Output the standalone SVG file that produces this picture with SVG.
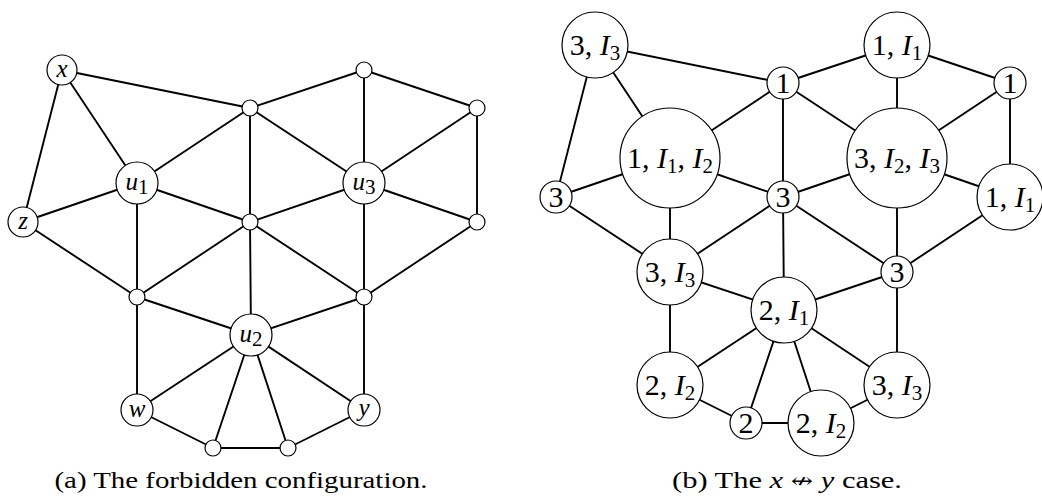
<svg xmlns="http://www.w3.org/2000/svg" width="1042" height="497" viewBox="0 0 1042 497">
<style>
.e{stroke:#000;stroke-width:1.9;fill:none;stroke-linecap:round}
.n{fill:#fff;stroke:#000;stroke-width:1.2}
.t{font-family:"Liberation Serif","DejaVu Serif",serif;fill:#000;text-anchor:middle}
.a{font-size:25px;font-style:italic}
.b{font-size:30px}
.i{font-style:italic}
.s{font-size:21px;font-style:normal}
.c{font-size:24px}
.ar{font-family:"DejaVu Serif","DejaVu Sans",serif;font-size:21px}
</style>
<rect width="1042" height="497" fill="#fff"/>
<g id="edges-a" class="e">
<line x1="62" y1="70" x2="23" y2="222"/>
<line x1="62" y1="70" x2="137" y2="183"/>
<line x1="62" y1="70" x2="250" y2="108"/>
<line x1="250" y1="108" x2="137" y2="183"/>
<line x1="250" y1="108" x2="364" y2="70"/>
<line x1="250" y1="108" x2="364" y2="183"/>
<line x1="250" y1="108" x2="250" y2="222"/>
<line x1="364" y1="70" x2="477" y2="108"/>
<line x1="364" y1="70" x2="364" y2="183"/>
<line x1="477" y1="108" x2="364" y2="183"/>
<line x1="477" y1="108" x2="477" y2="222"/>
<line x1="137" y1="183" x2="23" y2="222"/>
<line x1="137" y1="183" x2="250" y2="222"/>
<line x1="137" y1="183" x2="137" y2="297"/>
<line x1="23" y1="222" x2="137" y2="297"/>
<line x1="250" y1="222" x2="364" y2="183"/>
<line x1="250" y1="222" x2="137" y2="297"/>
<line x1="250" y1="222" x2="251" y2="335"/>
<line x1="250" y1="222" x2="364" y2="297"/>
<line x1="364" y1="183" x2="477" y2="222"/>
<line x1="364" y1="183" x2="364" y2="297"/>
<line x1="477" y1="222" x2="364" y2="297"/>
<line x1="137" y1="297" x2="251" y2="335"/>
<line x1="137" y1="297" x2="137" y2="410"/>
<line x1="364" y1="297" x2="251" y2="335"/>
<line x1="364" y1="297" x2="364" y2="410"/>
<line x1="251" y1="335" x2="137" y2="410"/>
<line x1="251" y1="335" x2="213" y2="448"/>
<line x1="251" y1="335" x2="288" y2="448"/>
<line x1="251" y1="335" x2="364" y2="410"/>
<line x1="137" y1="410" x2="213" y2="448"/>
<line x1="213" y1="448" x2="288" y2="448"/>
<line x1="288" y1="448" x2="364" y2="410"/>
</g>
<g id="edges-b" class="e" transform="translate(533,-25)">
<line x1="62" y1="70" x2="23" y2="222"/>
<line x1="62" y1="70" x2="137" y2="183"/>
<line x1="62" y1="70" x2="250" y2="108"/>
<line x1="250" y1="108" x2="137" y2="183"/>
<line x1="250" y1="108" x2="364" y2="70"/>
<line x1="250" y1="108" x2="364" y2="183"/>
<line x1="250" y1="108" x2="250" y2="222"/>
<line x1="364" y1="70" x2="477" y2="108"/>
<line x1="364" y1="70" x2="364" y2="183"/>
<line x1="477" y1="108" x2="364" y2="183"/>
<line x1="477" y1="108" x2="477" y2="222"/>
<line x1="137" y1="183" x2="23" y2="222"/>
<line x1="137" y1="183" x2="250" y2="222"/>
<line x1="137" y1="183" x2="137" y2="297"/>
<line x1="23" y1="222" x2="137" y2="297"/>
<line x1="250" y1="222" x2="364" y2="183"/>
<line x1="250" y1="222" x2="137" y2="297"/>
<line x1="250" y1="222" x2="251" y2="335"/>
<line x1="250" y1="222" x2="364" y2="297"/>
<line x1="364" y1="183" x2="477" y2="222"/>
<line x1="364" y1="183" x2="364" y2="297"/>
<line x1="477" y1="222" x2="364" y2="297"/>
<line x1="137" y1="297" x2="251" y2="335"/>
<line x1="137" y1="297" x2="137" y2="410"/>
<line x1="364" y1="297" x2="251" y2="335"/>
<line x1="364" y1="297" x2="364" y2="410"/>
<line x1="251" y1="335" x2="137" y2="410"/>
<line x1="251" y1="335" x2="213" y2="448"/>
<line x1="251" y1="335" x2="288" y2="448"/>
<line x1="251" y1="335" x2="364" y2="410"/>
<line x1="137" y1="410" x2="213" y2="448"/>
<line x1="213" y1="448" x2="288" y2="448"/>
<line x1="288" y1="448" x2="364" y2="410"/>
</g>
<!-- Left graph nodes -->
<g id="a-x"><circle class="n" cx="62" cy="70" r="15"/><text class="t a" x="62" y="77">x</text></g>
<g id="a-z"><circle class="n" cx="23" cy="222" r="15"/><text class="t a" x="23" y="229">z</text></g>
<g id="a-u1"><circle class="n" cx="137" cy="183" r="21"/><text class="t a" x="137" y="190">u<tspan class="s" dy="4">1</tspan></text></g>
<g id="a-u3"><circle class="n" cx="364" cy="183" r="21"/><text class="t a" x="364" y="190">u<tspan class="s" dy="4">3</tspan></text></g>
<g id="a-u2"><circle class="n" cx="251" cy="335" r="21"/><text class="t a" x="251" y="342">u<tspan class="s" dy="4">2</tspan></text></g>
<g id="a-w"><circle class="n" cx="137" cy="410" r="16"/><text class="t a" x="137" y="417">w</text></g>
<g id="a-y"><circle class="n" cx="364" cy="410" r="16"/><text class="t a" x="364" y="416">y</text></g>
<g id="a-t1"><circle class="n" cx="250" cy="108" r="8"/></g>
<g id="a-t2"><circle class="n" cx="364" cy="70" r="8"/></g>
<g id="a-r1"><circle class="n" cx="477" cy="108" r="8"/></g>
<g id="a-m"><circle class="n" cx="250" cy="222" r="8"/></g>
<g id="a-r2"><circle class="n" cx="477" cy="222" r="8"/></g>
<g id="a-l"><circle class="n" cx="137" cy="297" r="8"/></g>
<g id="a-rl"><circle class="n" cx="364" cy="297" r="8"/></g>
<g id="a-b1"><circle class="n" cx="213" cy="448" r="8"/></g>
<g id="a-b2"><circle class="n" cx="288" cy="448" r="8"/></g>
<!-- Right graph nodes -->
<g id="b-x"><circle class="n" cx="595" cy="45" r="33"/><text class="t b" x="595" y="55">3, <tspan class="i">I</tspan><tspan class="s" dy="5">3</tspan></text></g>
<g id="b-z"><circle class="n" cx="556" cy="197" r="16"/><text class="t b" x="556" y="207">3</text></g>
<g id="b-t1"><circle class="n" cx="783" cy="83" r="16"/><text class="t b" x="783" y="93">1</text></g>
<g id="b-t2"><circle class="n" cx="897" cy="45" r="33"/><text class="t b" x="897" y="55">1, <tspan class="i">I</tspan><tspan class="s" dy="5">1</tspan></text></g>
<g id="b-r1"><circle class="n" cx="1010" cy="83" r="16"/><text class="t b" x="1010" y="93">1</text></g>
<g id="b-u1"><circle class="n" cx="670" cy="158" r="50"/><text class="t b" x="670" y="168">1, <tspan class="i">I</tspan><tspan class="s" dy="5">1</tspan><tspan dy="-5">, </tspan><tspan class="i">I</tspan><tspan class="s" dy="5">2</tspan></text></g>
<g id="b-u3"><circle class="n" cx="897" cy="158" r="50"/><text class="t b" x="897" y="168">3, <tspan class="i">I</tspan><tspan class="s" dy="5">2</tspan><tspan dy="-5">, </tspan><tspan class="i">I</tspan><tspan class="s" dy="5">3</tspan></text></g>
<g id="b-m"><circle class="n" cx="783" cy="197" r="16"/><text class="t b" x="783" y="207">3</text></g>
<g id="b-r2"><circle class="n" cx="1010" cy="197" r="33"/><text class="t b" x="1010" y="207">1, <tspan class="i">I</tspan><tspan class="s" dy="5">1</tspan></text></g>
<g id="b-l"><circle class="n" cx="670" cy="272" r="33"/><text class="t b" x="670" y="282">3, <tspan class="i">I</tspan><tspan class="s" dy="5">3</tspan></text></g>
<g id="b-rl"><circle class="n" cx="897" cy="272" r="16"/><text class="t b" x="897" y="282">3</text></g>
<g id="b-u2"><circle class="n" cx="784" cy="310" r="33"/><text class="t b" x="784" y="320">2, <tspan class="i">I</tspan><tspan class="s" dy="5">1</tspan></text></g>
<g id="b-w"><circle class="n" cx="670" cy="385" r="33"/><text class="t b" x="670" y="395">2, <tspan class="i">I</tspan><tspan class="s" dy="5">2</tspan></text></g>
<g id="b-y"><circle class="n" cx="897" cy="385" r="33"/><text class="t b" x="897" y="395">3, <tspan class="i">I</tspan><tspan class="s" dy="5">3</tspan></text></g>
<g id="b-b1"><circle class="n" cx="746" cy="423" r="16"/><text class="t b" x="746" y="433">2</text></g>
<g id="b-b2"><circle class="n" cx="821" cy="423" r="33"/><text class="t b" x="821" y="433">2, <tspan class="i">I</tspan><tspan class="s" dy="5">2</tspan></text></g>
<!-- Captions -->
<g id="caption-a"><text class="t c" x="241" y="488" textLength="373" lengthAdjust="spacingAndGlyphs">(a) The forbidden configuration.</text></g>
<g id="caption-b"><text class="t c" x="787" y="488" textLength="230" lengthAdjust="spacingAndGlyphs">(b) The <tspan class="i">x</tspan> <tspan class="ar">↮</tspan> <tspan class="i">y</tspan> case.</text></g>
</svg>
